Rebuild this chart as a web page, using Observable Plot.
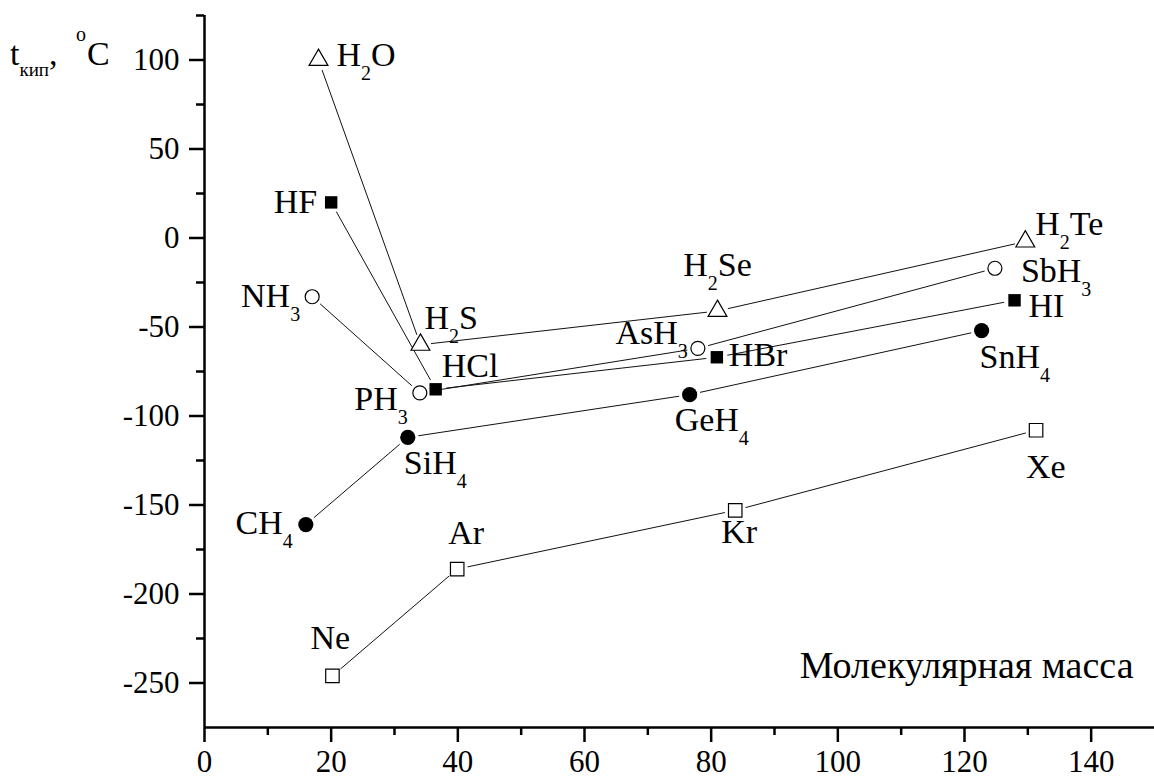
<!DOCTYPE html>
<html>
<head>
<meta charset="utf-8">
<script src="https://cdn.jsdelivr.net/npm/d3@7"></script>
<script src="https://cdn.jsdelivr.net/npm/@observablehq/plot@0.6"></script>
<style>
  html, body { margin: 0; padding: 0; background: #fff; }
  #chart svg { display: block; }
</style>
</head>
<body>
<div id="chart"></div>
<script>
// ---------- data ----------
// Group 16 hydrides (open triangles)
const g16Names = ["H2O", "H2S", "H2Se", "H2Te"];
const g16Mass  = [18.0, 34.1, 81.0, 129.6];
const g16Bp    = [100, -60, -41, -2];
// Group 17 hydrides (filled squares)
const g17Names = ["HF", "HCl", "HBr", "HI"];
const g17Mass  = [20.0, 36.5, 80.9, 127.9];
const g17Bp    = [20, -85, -67, -35];
// Group 15 hydrides (open circles)
const g15Names = ["NH3", "PH3", "AsH3", "SbH3"];
const g15Mass  = [17.0, 34.0, 77.9, 124.8];
const g15Bp    = [-33, -87, -62, -17];
// Group 14 hydrides (filled circles)
const g14Names = ["CH4", "SiH4", "GeH4", "SnH4"];
const g14Mass  = [16.0, 32.1, 76.6, 122.7];
const g14Bp    = [-161, -112, -88, -52];
// Noble gases (open squares)
const nobleNames = ["Ne", "Ar", "Kr", "Xe"];
const nobleMass  = [20.2, 39.9, 83.8, 131.3];
const nobleBp    = [-246, -186, -153, -108];

// axis ticks
const xTicks = [0, 20, 40, 60, 80, 100, 120, 140];
const xMinorTicks = [10, 30, 50, 70, 90, 110, 130];
const yTicks = [-250, -200, -150, -100, -50, 0, 50, 100];
const yMinorTicks = [-225, -175, -125, -75, -25, 25, 75, 125];
const xTitle = "Молекулярная масса";

// ---------- build tables ----------
function table(names, mass, bp) {
  return names.map((n, i) => ({name: n, mass: mass[i], bp: bp[i]}));
}
function segments(rows) {
  return rows.slice(1).map((r, i) => ({x1: rows[i].mass, y1: rows[i].bp, x2: r.mass, y2: r.bp}));
}
const series = [
  {rows: table(g16Names, g16Mass, g16Bp), symbol: "triangle", r: 7, fill: "white", stroke: "black"},
  {rows: table(g17Names, g17Mass, g17Bp), symbol: "square", r: 7, fill: "black", stroke: "none"},
  {rows: table(g15Names, g15Mass, g15Bp), symbol: "circle", r: 7, fill: "white", stroke: "black"},
  {rows: table(g14Names, g14Mass, g14Bp), symbol: "circle", r: 7.6, fill: "black", stroke: "none"},
  {rows: table(nobleNames, nobleMass, nobleBp), symbol: "square", r: 7.6, fill: "white", stroke: "black"}
];
const allNames = new Set([...g16Names, ...g17Names, ...g15Names, ...g14Names, ...nobleNames]);

// label placement (presentation only): [textAnchor, dx, dy]
const labelPlacement = {
  H2O: ["start", 18, -5], H2S: ["start", 4, -27], H2Se: ["middle", 0, -46], H2Te: ["start", 10, -17],
  HF: ["end", -14, 0], HCl: ["start", 6, -23], HBr: ["start", 12, -2], HI: ["start", 14, 6],
  NH3: ["end", -12, -1], PH3: ["end", -12, 6], AsH3: ["end", -10, -15], SbH3: ["start", 26, 3],
  CH4: ["end", -13, -1], SiH4: ["start", -4, 26], GeH4: ["start", -15, 25], SnH4: ["start", -2, 27],
  Ne: ["start", -22, -38], Ar: ["start", -9, -36], Kr: ["start", -14, 22], Xe: ["start", -10, 37]
};

const SERIF = "Liberation Serif, Times New Roman, serif";
const LABEL_SIZE = 34;
const TICK_FONT = 31;

const marks = [];
// connecting lines (with gaps at markers, as in the original)
for (const s of series) {
  marks.push(Plot.arrow(segments(s.rows), {
    x1: "x1", y1: "y1", x2: "x2", y2: "y2",
    headLength: 0, inset: 11, stroke: "#111", strokeWidth: 1
  }));
}
// markers
for (const s of series) {
  marks.push(Plot.dot(s.rows, {
    x: "mass", y: "bp", symbol: () => s.symbol, r: s.r,
    fill: s.fill, stroke: s.stroke, strokeWidth: s.stroke === "none" ? 0 : 1.2
  }));
}
// formula labels
for (const s of series) {
  for (const row of s.rows) {
    const [anchor, dx, dy] = labelPlacement[row.name];
    marks.push(Plot.text([row], {
      x: "mass", y: "bp", text: "name", textAnchor: anchor, dx, dy,
      fontSize: LABEL_SIZE, fontFamily: SERIF, fill: "black"
    }));
  }
}
// x axis title inside the frame
marks.push(Plot.text([xTitle], {
  frameAnchor: "bottom-right", textAnchor: "end", dx: -21, dy: -50,
  fontSize: 38, fontFamily: SERIF, fill: "black"
}));
// axes
marks.push(
  Plot.axisX({ticks: xTicks, tickSize: 15, tickPadding: 7, tickFormat: d => String(d),
    fontSize: TICK_FONT, fontFamily: SERIF, strokeWidth: 2.5, label: null, fill: "black"}),
  Plot.axisX({ticks: xMinorTicks, tickSize: 8, tickFormat: () => "", strokeWidth: 2.5, label: null}),
  Plot.axisY({ticks: yTicks, tickSize: 15, tickPadding: 10, tickFormat: d => String(d),
    fontSize: TICK_FONT, fontFamily: SERIF, strokeWidth: 2.5, label: null, fill: "black"}),
  Plot.axisY({ticks: yMinorTicks, tickSize: 8, tickFormat: () => "", strokeWidth: 2.5, label: null}),
  Plot.ruleY([-275], {stroke: "black", strokeWidth: 2.5}),
  Plot.ruleX([0], {stroke: "black", strokeWidth: 2.5})
);

const svg = Plot.plot({
  width: 1154,
  height: 778,
  marginLeft: 204,
  marginRight: 0,
  marginTop: 15,
  marginBottom: 51,
  x: {domain: [0, 150]},
  y: {domain: [-275, 125]},
  style: {fontFamily: SERIF, background: "white", color: "black", overflow: "visible"},
  marks
});

// turn digits in formulas into subscripts
const NS = "http://www.w3.org/2000/svg";
const SUB_SIZE = Math.round(LABEL_SIZE * 0.6);
const SUB_DROP = 14;
svg.querySelectorAll("text").forEach(t => {
  if (t.children.length) return;
  const s = t.textContent;
  if (!allNames.has(s) || !/\d/.test(s)) return;
  t.textContent = "";
  let down = false;
  for (const part of s.match(/\d+|\D+/g)) {
    const ts = document.createElementNS(NS, "tspan");
    ts.textContent = part;
    if (/^\d+$/.test(part)) {
      ts.setAttribute("font-size", SUB_SIZE);
      ts.setAttribute("dy", SUB_DROP);
      down = true;
    } else if (down) {
      ts.setAttribute("dy", -SUB_DROP);
      down = false;
    }
    t.appendChild(ts);
  }
});

// y axis title: t_кип, °C
const yt = d3.select(svg).append("text")
  .attr("font-family", SERIF).attr("font-size", LABEL_SIZE).attr("fill", "black")
  .attr("text-anchor", "start")
  .attr("x", 10).attr("y", 65);
yt.append("tspan").text("t");
yt.append("tspan").attr("font-size", 19).attr("dy", 11).text("кип");
yt.append("tspan").attr("dy", -11).text(",");
yt.append("tspan").attr("x", 76).attr("font-size", 20).attr("dy", -24).text("o");
yt.append("tspan").attr("x", 87).attr("dy", 24).text("C");

document.getElementById("chart").appendChild(svg);
</script>
</body>
</html>
